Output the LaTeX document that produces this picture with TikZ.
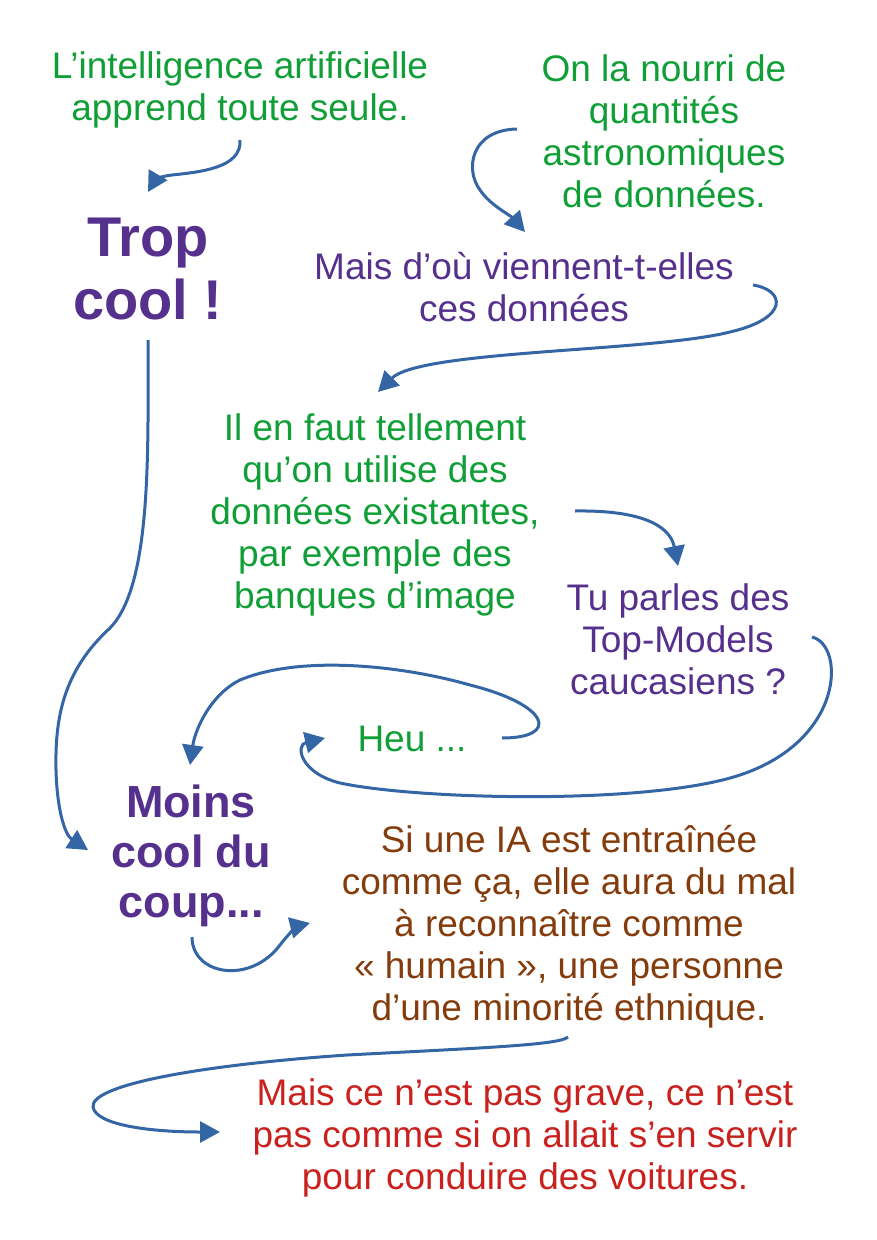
\documentclass[tikz,border=0pt]{standalone}
\usepackage{fontspec}
\setmainfont{Liberation Sans}
\usetikzlibrary{arrows.meta}
\definecolor{vert}{HTML}{109F36}
\definecolor{violet}{HTML}{55308D}
\definecolor{brun}{HTML}{843C0C}
\definecolor{rouge}{HTML}{C9211E}
\definecolor{bleu}{HTML}{3465A4}
\begin{document}
\begin{tikzpicture}[x=1pt,y=-1pt,
  txt/.style={align=center,inner sep=0pt,font=\fontsize{37}{42}\selectfont},
  gros/.style={align=center,inner sep=0pt,font=\bfseries\fontsize{56}{63}\selectfont},
  moyen/.style={align=center,inner sep=0pt,font=\bfseries\fontsize{45}{50}\selectfont},
  fleche/.style={draw=bleu,line width=3pt,-{Triangle[length=20pt,width=21pt]}}]
  \useasboundingbox (0,0) rectangle (877,1240);
  % les textes
  \node[txt,vert] (intro) at (240,90) {L’intelligence artificielle\\apprend toute seule.};
  \node[txt,vert] (nourri) at (664,131) {On la nourri de\\quantités\\astronomiques\\de données.};
  \node[gros,violet] (cool) at (148,269) {Trop\\cool !};
  \node[txt,violet] (dou) at (524,287) {Mais d’où viennent-t-elles\\ces données};
  \node[txt,vert] (faut) at (375,515) {Il en faut tellement\\qu’on utilise des\\données existantes,\\par exemple des\\banques d’image};
  \node[txt,violet] (top) at (678,639) {Tu parles des\\Top-Models\\caucasiens ?};
  \node[txt,vert] (heu) at (412,739) {Heu ...};
  \node[moyen,violet] (moins) at (191,856) {Moins\\cool du\\coup...};
  \node[txt,brun] (ia) at (569,927) {Si une IA est entraînée\\comme ça, elle aura du mal\\à reconnaître comme\\«~humain~», une personne\\d’une minorité ethnique.};
  \node[txt,rouge] (grave) at (525,1138) {Mais ce n’est pas grave, ce n’est\\pas comme si on allait s’en servir\\pour conduire des voitures.};
  % les bouts des fleches
  \coordinate (a1) at (240,140);  \coordinate (b1) at (148,192);
  \coordinate (a2) at (517,129);  \coordinate (b2) at (525,232);
  \coordinate (a3) at (753,285);  \coordinate (b3) at (378,392);
  \coordinate (a4) at (575,511);  \coordinate (b4) at (678,566);
  \coordinate (a5) at (812,637);  \coordinate (b5) at (325,738);
  \coordinate (a6) at (502,738);  \coordinate (b6) at (190,765);
  \coordinate (a7) at (148,340);  \coordinate (b7) at (88,850);
  \coordinate (a8) at (192,937);  \coordinate (b8) at (310,923);
  \coordinate (a9) at (568,1037); \coordinate (b9) at (220,1132);
  % les fleches
  \draw[fleche] (a1) .. controls (242,168) and (200,172) .. (172,175) .. controls (162,176) and (155,180) .. (b1);
  \draw[fleche] (a2) .. controls (470,130) and (465,170) .. (480,190) .. controls (490,205) and (510,215) .. (b2);
  \draw[fleche] (a3) .. controls (785,290) and (790,318) .. (730,332) .. controls (650,352) and (420,350) .. (b3);
  \draw[fleche] (a4) .. controls (640,510) and (670,525) .. (b4);
  \draw[fleche] (a5) .. controls (845,645) and (845,740) .. (740,775) .. controls (650,805) and (420,800) .. (340,783) .. controls (300,773) and (295,745) .. (b5);
  \draw[fleche] (a6) .. controls (560,738) and (550,705) .. (470,685) .. controls (400,665) and (300,655) .. (240,680) .. controls (210,695) and (195,730) .. (b6);
  \draw[fleche] (a7) .. controls (148,450) and (152,585) .. (110,628) .. controls (62,672) and (55,720) .. (56,770) .. controls (57,810) and (65,835) .. (b7);
  \draw[fleche] (a8) .. controls (192,975) and (250,985) .. (280,945) .. controls (290,932) and (298,926) .. (b8);
  \draw[fleche] (a9) .. controls (560,1045) and (480,1048) .. (347,1055) .. controls (200,1065) and (90,1085) .. (93,1107) .. controls (96,1125) and (150,1132) .. (b9);
\end{tikzpicture}
\end{document}
